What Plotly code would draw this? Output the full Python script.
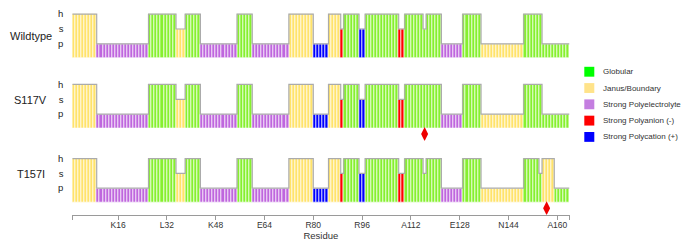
import plotly.graph_objects as go
from plotly.subplots import make_subplots

# ---------------- data ----------------
first_residue = 2
row_names = ["Wildtype", "S117V", "T157I"]
mutation_sites = [None, 117, 157]

category_codes = ["G", "J", "P", "R", "B"]
category_names = ["Globular", "Janus/Boundary", "Strong Polyelectrolyte",
                  "Strong Polyanion (-)", "Strong Polycation (+)"]
level_codes = ["p", "s", "h"]

# run-length encoded per row: class, level, run length
wt_class = ["J", "P", "G", "J", "G", "P", "G", "P", "J", "B", "J", "R", "G", "B", "G", "R", "G", "G", "G", "P", "G", "J", "G", "G"]
wt_level = ["h", "p", "h", "s", "h", "p", "h", "p", "h", "p", "h", "s", "h", "s", "h", "s", "h", "s", "h", "p", "h", "p", "h", "p"]
wt_len = [8, 17, 9, 3, 5, 12, 5, 12, 8, 5, 4, 1, 5, 2, 11, 2, 6, 1, 5, 7, 6, 14, 6, 9]

s117v_class = ["J", "P", "G", "J", "G", "P", "G", "P", "J", "B", "J", "R", "G", "B", "G", "R", "G", "P", "G", "J", "G", "G"]
s117v_level = ["h", "p", "h", "s", "h", "p", "h", "p", "h", "p", "h", "s", "h", "s", "h", "s", "h", "p", "h", "p", "h", "p"]
s117v_len = [8, 17, 9, 3, 5, 12, 5, 12, 8, 5, 4, 1, 5, 2, 11, 2, 12, 7, 6, 14, 6, 9]

t157i_class = ["J", "P", "G", "J", "G", "P", "G", "P", "J", "B", "J", "R", "G", "B", "G", "R", "G", "G", "G", "P", "G", "J", "G", "G", "J", "G"]
t157i_level = ["h", "p", "h", "s", "h", "p", "h", "p", "h", "p", "h", "s", "h", "s", "h", "s", "h", "s", "h", "p", "h", "p", "h", "s", "h", "p"]
t157i_len = [8, 17, 9, 3, 5, 12, 5, 12, 8, 5, 4, 1, 5, 2, 11, 2, 6, 1, 5, 7, 6, 14, 5, 1, 4, 5]

tick_residues = [16, 32, 48, 64, 80, 96, 112, 128, 144, 160]
tick_labels = ["K16", "L32", "K48", "E64", "R80", "R96", "A112", "E128", "N144", "A160"]

# ---------------- styles ----------------
bar_colors = {"G": "#86f02e", "J": "#ffe36a", "P": "#bf66de", "R": "#ff0000", "B": "#0000ff"}
legend_colors = {"G": "#00ff00", "J": "#ffe38a", "P": "#c47ee0", "R": "#ff0000", "B": "#0000ff"}
FONT = "Liberation Sans, Arial, sans-serif"

# page body margin compensation
OX, OY = 8, 8
W, H = 682, 241


def px2x(px):
    return (px - OX) / W


def px2y(py):
    return 1 - (py - OY) / H


def expand(classes, levels, lengths):
    res, cls, lev = [], [], []
    n = first_residue
    for c, l, k in zip(classes, levels, lengths):
        for _ in range(k):
            res.append(n)
            cls.append(c)
            lev.append(level_codes.index(l) + 1)
            n += 1
    return res, cls, lev


rows = [expand(wt_class, wt_level, wt_len),
        expand(s117v_class, s117v_level, s117v_len),
        expand(t157i_class, t157i_level, t157i_len)]

fig = make_subplots(rows=3, cols=1)

for r, (res, cls, lev) in enumerate(rows, start=1):
    for code in category_codes:
        xs = [x for x, c in zip(res, cls) if c == code]
        ys = [y for y, c in zip(lev, cls) if c == code]
        if not xs:
            continue
        fig.add_trace(go.Bar(x=xs, y=ys, width=1, marker=dict(color=bar_colors[code],
                             line=dict(color="rgba(255,255,255,0.85)", width=0.8)),
                             showlegend=False, hoverinfo="skip"), row=r, col=1)
    xe = [x - 0.5 for x in res] + [res[-1] + 0.5]
    ye = lev + [lev[-1]]
    fig.add_trace(go.Scatter(x=xe, y=ye, mode="lines", line=dict(color="#ababab", width=1.2, shape="hv"),
                             showlegend=False, hoverinfo="skip"), row=r, col=1)
    if mutation_sites[r - 1] is not None:
        fig.add_trace(go.Scatter(x=[mutation_sites[r - 1]], y=[-0.35], mode="markers",
                                 marker=dict(symbol="diamond-tall", size=10, color="#ee0000"),
                                 showlegend=False, hoverinfo="skip"), row=r, col=1)

xrange = [first_residue - 0.5, rows[0][0][-1] + 0.5]
xdom = [px2x(72.3), px2x(569.5)]
# each row: y range [-0.8, 3.2], 15 px per unit; top of range at (h top - 3 px)
row_tops = [8.2, 79.4, 154.4]
ydoms = [[px2y(t + 60), px2y(t)] for t in row_tops]
label_y = [33.0, 98.0, 173.0]

for i in range(3):
    xa = "xaxis" if i == 0 else f"xaxis{i+1}"
    ya = "yaxis" if i == 0 else f"yaxis{i+1}"
    fig.layout[xa].update(domain=xdom, range=xrange, showgrid=False, zeroline=False,
                          visible=(i == 2), fixedrange=True)
    fig.layout[ya].update(domain=ydoms[i], range=[-0.8, 3.2], showgrid=False, zeroline=False,
                          tickvals=[1, 2, 3], ticktext=level_codes, ticks="outside", ticklen=6,
                          tickcolor="rgba(0,0,0,0)", tickfont=dict(size=9.5, color="#222", family=FONT))
    fig.add_annotation(text=row_names[i], xref="paper", yref="paper", x=px2x(30.5),
                       y=px2y(label_y[i]), showarrow=False, xanchor="center", yanchor="middle",
                       font=dict(size=11, color="#222", family=FONT))

fig.layout.xaxis3.update(showline=True, linecolor="#9a9a9a", linewidth=1, ticks="outside", ticklen=4,
                         tickcolor="#9a9a9a", ticklabelstandoff=-2,
                         tickvals=[xrange[0]] + [t + 0.5 for t in tick_residues] + [xrange[1]],
                         ticktext=[""] + tick_labels + [""],
                         tickfont=dict(size=8.5, color="#333", family=FONT),
                         title=dict(text="Residue", font=dict(size=9.5, color="#333", family=FONT), standoff=2))

# legend (manual)
for i, code in enumerate(category_codes):
    yc = 69.5 + 16.5 * i
    fig.add_shape(type="rect", xref="paper", yref="paper", x0=px2x(584.3), x1=px2x(594.3),
                  y0=px2y(yc + 5), y1=px2y(yc - 5), fillcolor=legend_colors[code],
                  line=dict(width=0))
    fig.add_annotation(text=category_names[i], xref="paper", yref="paper", x=px2x(600.5), y=px2y(yc),
                       xanchor="left", yanchor="middle", showarrow=False,
                       font=dict(size=8, color="#333", family=FONT))

fig.update_layout(width=W, height=H, margin=dict(l=0, r=0, t=0, b=0), barmode="overlay", bargap=0,
                  plot_bgcolor="white", paper_bgcolor="white", showlegend=False)

fig.write_html("out.html")
